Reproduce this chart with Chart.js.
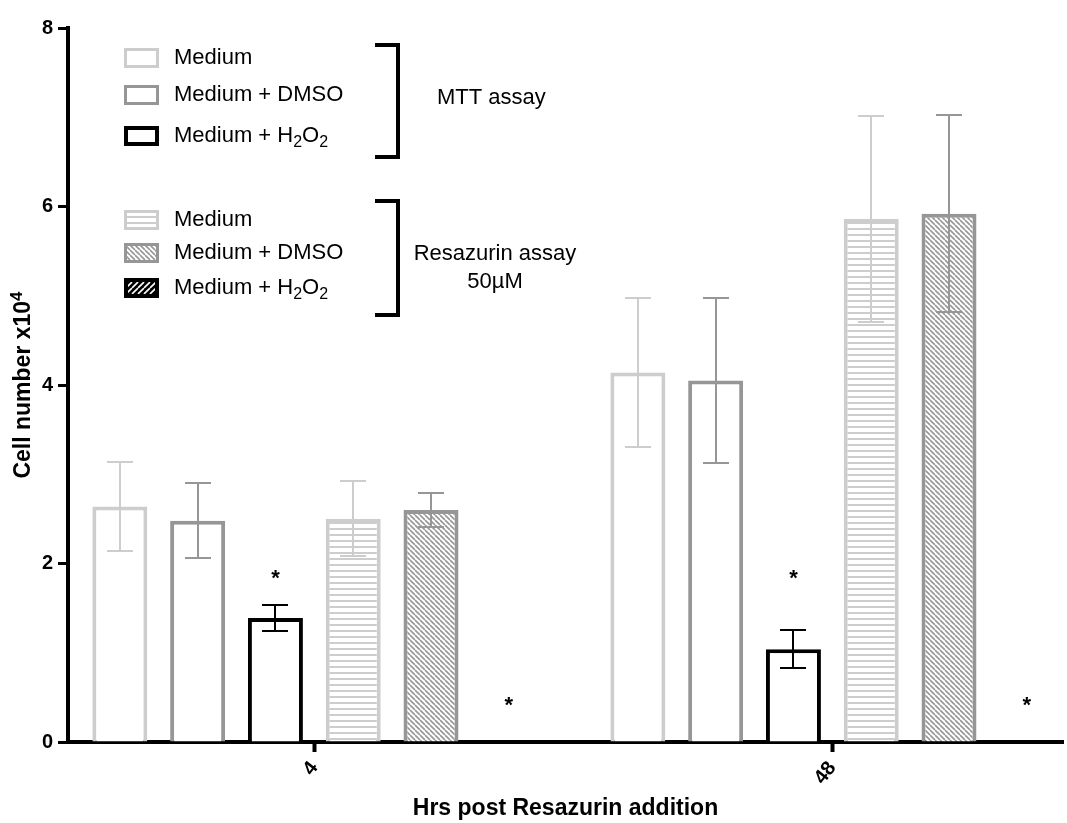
<!DOCTYPE html>
<html><head><meta charset="utf-8">
<script src="https://cdn.jsdelivr.net/npm/chart.js@4.4.1/dist/chart.umd.min.js"></script>
<style>html,body{margin:0;padding:0;background:#fff;}canvas{display:block;}</style>
</head><body>
<canvas id="c" width="1067" height="823"></canvas>
<script>
// ---------- data ----------
const categories = ['4', '48'];
const seriesLabels = ['Medium', 'Medium + DMSO', 'Medium + H₂O₂', 'Medium', 'Medium + DMSO', 'Medium + H₂O₂'];
const mttMedium = [2.64, 4.14];
const mttMediumSd = [0.50, 0.83];
const mttDmso = [2.48, 4.05];
const mttDmsoSd = [0.42, 0.92];
const mttH2o2 = [1.39, 1.04];
const mttH2o2Sd = [0.15, 0.21];
const resMedium = [2.50, 5.86];
const resMediumSd = [0.42, 1.15];
const resDmso = [2.60, 5.92];
const resDmsoSd = [0.19, 1.10];
const resH2o2 = [0, 0];
const resH2o2Sd = [0, 0];
const yTickValues = [0, 2, 4, 6, 8];
const starMarks = [ {series: 2, index: 0, y: 1.86}, {series: 2, index: 1, y: 1.86},
                    {series: 5, index: 0, y: 0.44}, {series: 5, index: 1, y: 0.44} ];
const groupNames = ['MTT assay', ['Resazurin assay', '50µM']];
const xTitle = 'Hrs post Resazurin addition';
const yTitle = 'Cell number x10⁴';

// ---------- styles ----------
const FONT = '"Liberation Sans", Arial, Helvetica, sans-serif';
Chart.defaults.font.family = FONT;
const LIGHT = '#cdcdcd', MID = '#969696', DARK = '#000000';
const cv = document.getElementById('c');
const ctx = cv.getContext('2d');

function hPattern(color, bg) {
  const c = document.createElement('canvas'); c.width = 6; c.height = 6;
  const g = c.getContext('2d'); g.fillStyle = bg; g.fillRect(0, 0, 6, 6);
  g.fillStyle = color; g.fillRect(0, 0, 6, 2);
  return ctx.createPattern(c, 'repeat');
}
function dPattern(color, bg, size, lw, back) {
  const c = document.createElement('canvas'); c.width = size; c.height = size;
  const g = c.getContext('2d'); g.fillStyle = bg; g.fillRect(0, 0, size, size);
  g.strokeStyle = color; g.lineWidth = lw; g.beginPath();
  for (let k = -1; k <= 1; k++) {
    if (back) { g.moveTo(k * size, 0); g.lineTo(k * size + size, size); }
    else { g.moveTo(k * size, size); g.lineTo(k * size + size, 0); }
  }
  g.stroke();
  return ctx.createPattern(c, 'repeat');
}
const hFill = hPattern(LIGHT, '#ffffff');
const dFill = dPattern(MID, '#ffffff', 5, 1.6, true);
const blackFill = dPattern('#ffffff', '#000000', 6, 1.6, false);

const seriesValues = [mttMedium, mttDmso, mttH2o2, resMedium, resDmso, resH2o2];
const seriesSd = [mttMediumSd, mttDmsoSd, mttH2o2Sd, resMediumSd, resDmsoSd, resH2o2Sd];
const seriesBorder = [LIGHT, MID, DARK, LIGHT, MID, DARK];
const seriesFill = ['#ffffff', '#ffffff', '#ffffff', hFill, dFill, blackFill];

const datasets = seriesValues.map((vals, s) => ({
  label: seriesLabels[s],
  data: vals.map((v, i) => ({x: i, y: v})),
  sd: seriesSd[s],
  backgroundColor: seriesFill[s],
  borderColor: seriesBorder[s],
  borderWidth: 4,
  barPercentage: 0.707,
  categoryPercentage: 0.901
}));

// ---------- helpers ----------
function drawRich(g, text, x, y, size, align, weight) {
  const parts = [];
  let buf = '';
  for (const ch of text) {
    if (ch === '₂') { if (buf) parts.push({t: buf}); buf = ''; parts.push({t: '2', sub: 1}); }
    else if (ch === '⁴') { if (buf) parts.push({t: buf}); buf = ''; parts.push({t: '4', sub: -1}); }
    else buf += ch;
  }
  if (buf) parts.push({t: buf});
  const wt = weight ? weight + ' ' : '';
  const fN = wt + size + 'px ' + FONT, fS = wt + Math.round(size * 0.72) + 'px ' + FONT;
  let w = 0;
  parts.forEach(p => { g.font = p.sub ? fS : fN; p.w = g.measureText(p.t).width; w += p.w; });
  let cx = align === 'center' ? x - w / 2 : x;
  g.textAlign = 'left'; g.textBaseline = 'middle';
  parts.forEach(p => {
    g.font = p.sub ? fS : fN;
    const dy = p.sub === 1 ? size * 0.32 : (p.sub === -1 ? -size * 0.3 : 0);
    g.fillText(p.t, cx, y + dy); cx += p.w;
  });
}

const extras = {
  id: 'extras',
  afterDatasetsDraw(chart) {
    const g = chart.ctx, ys = chart.scales.y;
    chart.data.datasets.forEach((ds, di) => {
      const meta = chart.getDatasetMeta(di);
      ds.sd.forEach((e, i) => {
        if (!e) return;
        const v = ds.data[i].y, el = meta.data[i];
        const x = Math.round(el.x), yt = Math.round(ys.getPixelForValue(v + e)), yb = Math.round(ys.getPixelForValue(v - e));
        g.save(); g.strokeStyle = ds.borderColor; g.lineWidth = 2; g.beginPath();
        g.moveTo(x, yt); g.lineTo(x, yb);
        g.moveTo(x - 13, yt); g.lineTo(x + 13, yt);
        g.moveTo(x - 13, yb); g.lineTo(x + 13, yb);
        g.stroke(); g.restore();
      });
    });
    g.save(); g.fillStyle = '#000'; g.font = 'bold 22px ' + FONT; g.textAlign = 'center'; g.textBaseline = 'alphabetic';
    starMarks.forEach(m => {
      const el = chart.getDatasetMeta(m.series).data[m.index];
      g.fillText('*', el.x, ys.getPixelForValue(m.y) + 9);
    });
    g.restore();
  },
  afterDraw(chart) {
    const g = chart.ctx;
    g.save();
    // y-axis title with superscript
    const ys = chart.scales.y;
    g.save();
    g.translate(24, (ys.top + ys.bottom) / 2);
    g.rotate(-Math.PI / 2);
    g.fillStyle = '#000';
    drawRich(g, yTitle, 0, 0, 23, 'center', 'bold');
    g.restore();

    const rowsA = [58, 95, 136], rowsB = [220, 253, 288];
    const drawBox = (s, cy) => {
      const lw = s === 2 || s === 5 ? 4 : 3;
      g.fillStyle = seriesFill[s];
      g.fillRect(124, cy - 10, 35, 20);
      g.strokeStyle = seriesBorder[s]; g.lineWidth = lw;
      g.strokeRect(124 + lw / 2, cy - 10 + lw / 2, 35 - lw, 20 - lw);
    };
    [0, 1, 2].forEach(k => { drawBox(k, rowsA[k]); g.fillStyle = '#000'; drawRich(g, seriesLabels[k], 174, rowsA[k], 22, 'left'); });
    [3, 4, 5].forEach((s, k) => { drawBox(s, rowsB[k]); g.fillStyle = '#000'; drawRich(g, seriesLabels[s], 174, rowsB[k], 22, 'left'); });
    g.strokeStyle = '#000'; g.lineWidth = 4; g.lineCap = 'butt';
    const bracket = (y0, y1) => {
      g.beginPath(); g.moveTo(375, y0); g.lineTo(398, y0); g.lineTo(398, y1); g.lineTo(375, y1); g.stroke();
    };
    bracket(45, 157); bracket(201, 315);
    g.fillStyle = '#000';
    drawRich(g, groupNames[0], 437, 98, 22, 'left');
    drawRich(g, groupNames[1][0], 495, 254, 22, 'center');
    drawRich(g, groupNames[1][1], 495, 282, 22, 'center');
    g.restore();
  }
};

const tickFont = {size: 20, weight: 'bold', family: FONT};
const titleFont = {size: 23, weight: 'bold', family: FONT};

new Chart(ctx, {
  type: 'bar',
  data: {datasets},
  plugins: [extras],
  options: {
    responsive: false, animation: false,
    layout: {padding: {left: 0, right: 4, top: 28, bottom: 0}},
    plugins: {legend: {display: false}, tooltip: {enabled: false}},
    scales: {
      x: {
        type: 'linear', min: -0.4755, max: 1.4453, z: 1, offset: false,
        afterBuildTicks: s => { s.ticks = categories.map((c, i) => ({value: i})); },
        afterFit: s => { s.height = 81; },
        ticks: {callback: v => categories[v], minRotation: 52, maxRotation: 52, autoSkip: false, padding: 5, color: '#000', font: tickFont},
        grid: {offset: false, drawOnChartArea: false, drawTicks: true, tickLength: 10, tickWidth: 4, tickColor: '#000'},
        border: {display: true, color: '#000', width: 4},
        title: {display: true, text: xTitle, color: '#000', font: titleFont, padding: {top: 0, bottom: 1}}
      },
      y: {
        min: 0, max: 8, z: 1,
        afterBuildTicks: s => { s.ticks = yTickValues.map(v => ({value: v})); },
        afterFit: s => { s.width = 68; },
        ticks: {color: '#000', font: tickFont, padding: 5},
        grid: {drawOnChartArea: false, drawTicks: true, tickLength: 10, tickWidth: 3, tickColor: '#000'},
        border: {display: true, color: '#000', width: 4},
        title: {display: false, text: yTitle}
      }
    }
  }
});
</script>
</body></html>
